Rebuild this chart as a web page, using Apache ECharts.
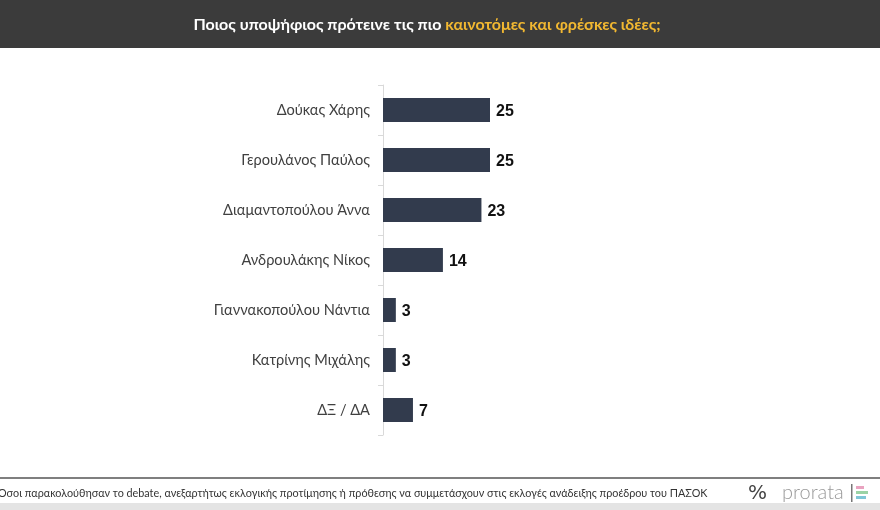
<!DOCTYPE html>
<html><head><meta charset="utf-8">
<script src="https://cdn.jsdelivr.net/npm/echarts@6/dist/echarts.min.js"></script>
<style>html,body{margin:0;padding:0;background:#fff}#c{width:880px;height:510px}</style>
</head><body><div id="c"></div>
<script>
const categories = ['Δούκας Χάρης','Γερουλάνος Παύλος','Διαμαντοπούλου Άννα','Ανδρουλάκης Νίκος','Γιαννακοπούλου Νάντια','Κατρίνης Μιχάλης','ΔΞ / ΔΑ'];
const values = [25,25,23,14,3,3,7];
const titleWhite = 'Ποιος υποψήφιος πρότεινε τις πιο ';
const titleYellow = 'καινοτόμες και φρέσκες ιδέες;';
const footnote = 'Όσοι παρακολούθησαν το debate, ανεξαρτήτως εκλογικής προτίμησης ή πρόθεσης να συμμετάσχουν στις εκλογές ανάδειξης προέδρου του ΠΑΣΟΚ';

const chart = echarts.init(document.getElementById('c'), null, {renderer:'canvas'});
chart.setOption({
  backgroundColor:'#fff',
  animation:false,
  grid:{left:383, top:85, width:214, height:350},
  xAxis:{type:'value', min:0, max:50, show:false},
  yAxis:{type:'category', inverse:true, data:categories,
    axisLine:{show:true, lineStyle:{color:'#d9d9d9', width:1}},
    axisTick:{show:true, length:5, lineStyle:{color:'#d9d9d9'}},
    axisLabel:{color:'#404040', fontSize:14.6, fontFamily:'Lato', margin:13}
  },
  series:[{type:'bar', data:values, barWidth:24,
    itemStyle:{color:'#323b4d'},
    label:{show:true, position:'right', distance:6, color:'#111', fontSize:16, fontWeight:'bold', fontFamily:'Liberation Sans', offset:[0,2]}
  }],
  graphic:[
    {type:'rect', shape:{x:0,y:0,width:880,height:48}, style:{fill:'#3b3b3b'}},
    {type:'text', x:427, y:25, style:{
      text:'{w|'+titleWhite+'}{y|'+titleYellow+'}',
      align:'center', verticalAlign:'middle',
      rich:{w:{fill:'#ffffff', fontSize:16, fontWeight:'bold', fontFamily:'Lato'},
            y:{fill:'#f2b831', fontSize:16, fontWeight:'bold', fontFamily:'Lato'}}
    }},
    {type:'line', shape:{x1:0,y1:478,x2:880,y2:478}, style:{stroke:'#555', lineWidth:1.5}},
    {type:'text', x:-2, y:494, style:{text:footnote, fill:'#333', fontSize:10.8, fontFamily:'Lato', verticalAlign:'middle'}},
    {type:'text', x:748, y:494, style:{text:'%', fill:'#444', fontSize:20, fontFamily:'DejaVu Sans', verticalAlign:'middle'}},
    {type:'text', x:782, y:493, style:{text:'prorata', fill:'#999', fontSize:20, fontFamily:'Lato', fontWeight:300, verticalAlign:'middle'}},
    {type:'rect', shape:{x:851,y:484,width:1.5,height:18}, style:{fill:'#777'}},
    {type:'rect', shape:{x:856,y:486,width:8,height:3}, style:{fill:'#e9a3c0'}},
    {type:'rect', shape:{x:856,y:491,width:12,height:3}, style:{fill:'#9bd3a5'}},
    {type:'rect', shape:{x:856,y:496,width:10,height:3}, style:{fill:'#7fc6d6'}},
    {type:'rect', shape:{x:0,y:503,width:880,height:7}, style:{fill:'#e4e4e4'}}
  ]
});
</script></body></html>
